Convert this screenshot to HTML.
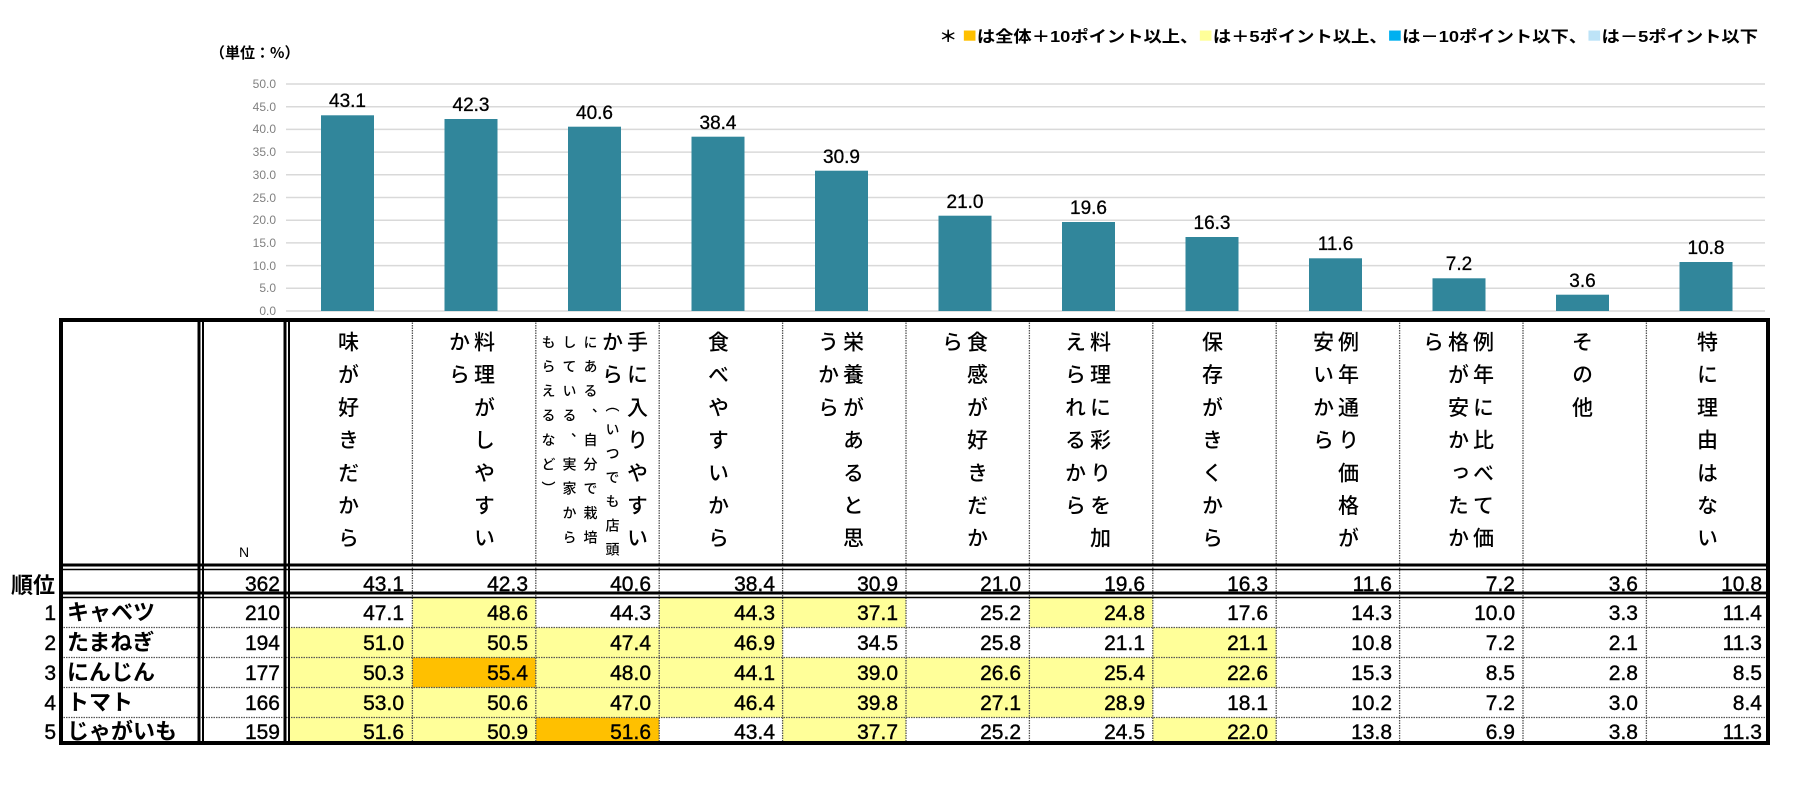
<!DOCTYPE html>
<html><head><meta charset="utf-8"><style>
body{margin:0;background:#fff;width:1800px;height:787px;overflow:hidden;position:relative;font-family:"Liberation Sans","Noto Sans CJK JP",sans-serif}
svg{position:absolute;left:0;top:0}
.v{position:absolute;writing-mode:vertical-rl;text-orientation:upright;font-family:"Noto Sans CJK JP",sans-serif;color:#000;white-space:nowrap;font-weight:500}
.b{font-size:21px;line-height:25px;letter-spacing:11.7px}
.s{font-size:14px;line-height:21px;letter-spacing:10.4px}
</style></head><body>
<svg width="1800" height="787" xmlns="http://www.w3.org/2000/svg" font-family="Liberation Sans, Noto Sans CJK JP, sans-serif">
<text x="210" y="58" font-size="15" font-weight="bold" font-family="Noto Sans CJK JP, sans-serif">（単位：%）</text>
<text x="939" y="42" font-size="16" font-weight="bold" textLength="819" lengthAdjust="spacingAndGlyphs" font-family="Liberation Sans, Noto Sans CJK JP, sans-serif">＊ <tspan fill="#FFC000" font-size="21">■</tspan>は全体＋10ポイント以上、<tspan fill="#FFFF99" font-size="21">■</tspan>は＋5ポイント以上、<tspan fill="#00B0F0" font-size="21">■</tspan>は－10ポイント以下、<tspan fill="#BDE3F7" font-size="21">■</tspan>は－5ポイント以下</text>
<g stroke="#d9d9d9" stroke-width="1.5">
<line x1="286" x2="1765" y1="84" y2="84"/><line x1="286" x2="1765" y1="106.7" y2="106.7"/><line x1="286" x2="1765" y1="129.4" y2="129.4"/><line x1="286" x2="1765" y1="152.1" y2="152.1"/><line x1="286" x2="1765" y1="174.8" y2="174.8"/><line x1="286" x2="1765" y1="197.5" y2="197.5"/><line x1="286" x2="1765" y1="220.2" y2="220.2"/><line x1="286" x2="1765" y1="242.9" y2="242.9"/><line x1="286" x2="1765" y1="265.6" y2="265.6"/><line x1="286" x2="1765" y1="288.3" y2="288.3"/><line x1="286" x2="1765" y1="311" y2="311"/>
</g>
<g font-size="12" fill="#808080" text-anchor="end">
<text x="276" y="88">50.0</text><text x="276" y="111">45.0</text><text x="276" y="133">40.0</text><text x="276" y="156">35.0</text><text x="276" y="179">30.0</text><text x="276" y="202">25.0</text><text x="276" y="224">20.0</text><text x="276" y="247">15.0</text><text x="276" y="270">10.0</text><text x="276" y="292">5.0</text><text x="276" y="315">0.0</text>
</g>
<g fill="#31869B">
<rect x="321" y="115.3" width="53" height="195.7"/>
<rect x="444.5" y="119" width="53" height="192"/>
<rect x="568" y="126.7" width="53" height="184.3"/>
<rect x="691.5" y="136.7" width="53" height="174.3"/>
<rect x="815" y="170.7" width="53" height="140.3"/>
<rect x="938.5" y="215.7" width="53" height="95.3"/>
<rect x="1062" y="222" width="53" height="89"/>
<rect x="1185.5" y="237" width="53" height="74"/>
<rect x="1309" y="258.3" width="53" height="52.7"/>
<rect x="1432.5" y="278.3" width="53" height="32.7"/>
<rect x="1556" y="294.7" width="53" height="16.3"/>
<rect x="1679.5" y="262" width="53" height="49"/>
</g>
<g font-size="19" text-anchor="middle" fill="#000" stroke="#000" stroke-width="0.3">
<text x="347.5" y="107">43.1</text><text x="471" y="111">42.3</text><text x="594.5" y="119">40.6</text><text x="718" y="129">38.4</text><text x="841.5" y="163">30.9</text><text x="965" y="208">21.0</text><text x="1088.5" y="214">19.6</text><text x="1212" y="229">16.3</text><text x="1335.5" y="250">11.6</text><text x="1459" y="270">7.2</text><text x="1582.5" y="287">3.6</text><text x="1706" y="254">10.8</text>
</g>
<g fill="#FFFF99">
<rect x="412.4" y="598" width="123.4" height="29.5"/><rect x="659.2" y="598" width="123.4" height="29.5"/><rect x="782.6" y="598" width="123.4" height="29.5"/><rect x="1029.4" y="598" width="123.4" height="29.5"/>
<rect x="289" y="627.5" width="123.4" height="30"/><rect x="412.4" y="627.5" width="123.4" height="30"/><rect x="535.8" y="627.5" width="123.4" height="30"/><rect x="659.2" y="627.5" width="123.4" height="30"/><rect x="1152.8" y="627.5" width="123.4" height="30"/>
<rect x="289" y="657.5" width="123.4" height="30"/><rect x="535.8" y="657.5" width="740.4" height="30"/>
<rect x="289" y="687.5" width="863.8" height="30"/>
<rect x="289" y="717.5" width="246.8" height="26"/><rect x="782.6" y="717.5" width="123.4" height="26"/><rect x="1152.8" y="717.5" width="123.4" height="26"/>
</g>
<g fill="#FFC000"><rect x="412.4" y="657.5" width="123.4" height="30"/><rect x="535.8" y="717.5" width="123.4" height="26"/></g>
<g stroke="#555" stroke-width="1.3" stroke-dasharray="1.5,1">
<line x1="412.4" x2="412.4" y1="320" y2="743"/><line x1="535.8" x2="535.8" y1="320" y2="743"/><line x1="659.2" x2="659.2" y1="320" y2="743"/><line x1="782.6" x2="782.6" y1="320" y2="743"/><line x1="906" x2="906" y1="320" y2="743"/><line x1="1029.4" x2="1029.4" y1="320" y2="743"/><line x1="1152.8" x2="1152.8" y1="320" y2="743"/><line x1="1276.2" x2="1276.2" y1="320" y2="743"/><line x1="1399.6" x2="1399.6" y1="320" y2="743"/><line x1="1523" x2="1523" y1="320" y2="743"/><line x1="1646.4" x2="1646.4" y1="320" y2="743"/>
<line x1="61" x2="1768" y1="627.5" y2="627.5"/><line x1="61" x2="1768" y1="657.5" y2="657.5"/><line x1="61" x2="1768" y1="687.5" y2="687.5"/><line x1="61" x2="1768" y1="717.5" y2="717.5"/>
</g>
<g stroke="#000">
<line x1="199" x2="199" y1="320" y2="743" stroke-width="3"/><line x1="203" x2="203" y1="320" y2="743" stroke-width="2"/>
<line x1="285" x2="285" y1="320" y2="743" stroke-width="3"/><line x1="289" x2="289" y1="320" y2="743" stroke-width="2"/>
<line x1="61" x2="1768" y1="565" y2="565" stroke-width="3"/><line x1="61" x2="1768" y1="569.5" y2="569.5" stroke-width="1.5"/>
<line x1="61" x2="1768" y1="593" y2="593" stroke-width="3"/><line x1="61" x2="1768" y1="597.5" y2="597.5" stroke-width="1.5"/>
<rect x="61" y="320" width="1707" height="423" fill="none" stroke-width="4"/>
</g>
<text x="244" y="557" font-size="14" text-anchor="middle">N</text>
<g font-size="22" font-family="Noto Sans CJK JP, sans-serif" font-weight="bold">
<text x="11" y="593">順位</text>
<text x="67" y="620">キャベツ</text><text x="67" y="650">たまねぎ</text><text x="67" y="680">にんじん</text><text x="67" y="710">トマト</text><text x="67" y="739">じゃがいも</text>
</g>
<g font-size="21" text-anchor="end" stroke="#000" stroke-width="0.4">
<text x="56" y="620">1</text><text x="56" y="650">2</text><text x="56" y="680">3</text><text x="56" y="710">4</text><text x="56" y="739">5</text>
<text x="280" y="591">362</text><text x="280" y="620">210</text><text x="280" y="650">194</text><text x="280" y="680">177</text><text x="280" y="710">166</text><text x="280" y="739">159</text>
</g>
<g font-size="21" text-anchor="end" stroke="#000" stroke-width="0.4">
<g transform="translate(0,591)"><text x="404">43.1</text><text x="528">42.3</text><text x="651">40.6</text><text x="775">38.4</text><text x="898">30.9</text><text x="1021">21.0</text><text x="1145">19.6</text><text x="1268">16.3</text><text x="1392">11.6</text><text x="1515">7.2</text><text x="1638">3.6</text><text x="1762">10.8</text></g>
<g transform="translate(0,620)"><text x="404">47.1</text><text x="528">48.6</text><text x="651">44.3</text><text x="775">44.3</text><text x="898">37.1</text><text x="1021">25.2</text><text x="1145">24.8</text><text x="1268">17.6</text><text x="1392">14.3</text><text x="1515">10.0</text><text x="1638">3.3</text><text x="1762">11.4</text></g>
<g transform="translate(0,650)"><text x="404">51.0</text><text x="528">50.5</text><text x="651">47.4</text><text x="775">46.9</text><text x="898">34.5</text><text x="1021">25.8</text><text x="1145">21.1</text><text x="1268">21.1</text><text x="1392">10.8</text><text x="1515">7.2</text><text x="1638">2.1</text><text x="1762">11.3</text></g>
<g transform="translate(0,680)"><text x="404">50.3</text><text x="528">55.4</text><text x="651">48.0</text><text x="775">44.1</text><text x="898">39.0</text><text x="1021">26.6</text><text x="1145">25.4</text><text x="1268">22.6</text><text x="1392">15.3</text><text x="1515">8.5</text><text x="1638">2.8</text><text x="1762">8.5</text></g>
<g transform="translate(0,710)"><text x="404">53.0</text><text x="528">50.6</text><text x="651">47.0</text><text x="775">46.4</text><text x="898">39.8</text><text x="1021">27.1</text><text x="1145">28.9</text><text x="1268">18.1</text><text x="1392">10.2</text><text x="1515">7.2</text><text x="1638">3.0</text><text x="1762">8.4</text></g>
<g transform="translate(0,739)"><text x="404">51.6</text><text x="528">50.9</text><text x="651">51.6</text><text x="775">43.4</text><text x="898">37.7</text><text x="1021">25.2</text><text x="1145">24.5</text><text x="1268">22.0</text><text x="1392">13.8</text><text x="1515">6.9</text><text x="1638">3.8</text><text x="1762">11.3</text></g>
</g>
</svg>
<div class="v b" style="right:1439.5px;top:331px">味が好きだから</div>
<div class="v b" style="right:1303.5px;top:331px">料理がしやすい<br>から</div>
<div class="v b" style="right:1150.5px;top:331px">手に入りやすい<br>から</div>
<div class="v s" style="right:1177.5px;top:398px;letter-spacing:10px">（いつでも店頭</div>
<div class="v s" style="right:1199.5px;top:335px">にある、自分で栽培<br>している、実家から<br>もらえるなど）</div>
<div class="v b" style="right:1069.5px;top:331px">食べやすいから</div>
<div class="v b" style="right:934.5px;top:331px">栄養があると思<br>うから</div>
<div class="v b" style="right:810.5px;top:331px">食感が好きだか<br>ら</div>
<div class="v b" style="right:687.5px;top:331px">料理に彩りを加<br>えられるから</div>
<div class="v b" style="right:575.5px;top:331px">保存がきくから</div>
<div class="v b" style="right:439.5px;top:331px">例年通り価格が<br>安いから</div>
<div class="v b" style="right:304.5px;top:331px">例年に比べて価<br>格が安かったか<br>ら</div>
<div class="v b" style="right:205.5px;top:331px">その他</div>
<div class="v b" style="right:80.5px;top:331px">特に理由はない</div>
</body></html>
